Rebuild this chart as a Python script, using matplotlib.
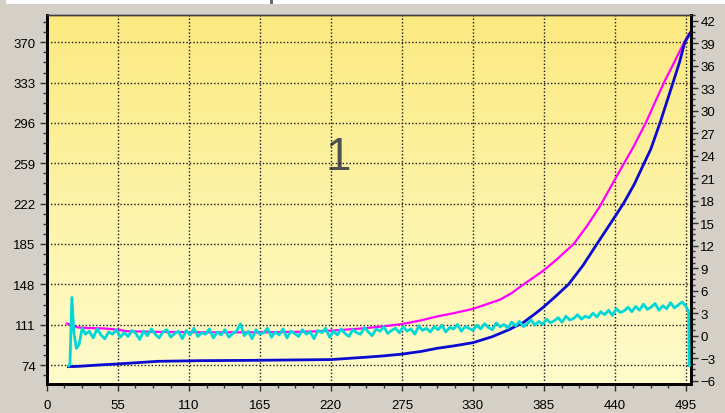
import numpy as np
import matplotlib
matplotlib.use("Agg")
import matplotlib.pyplot as plt
from matplotlib.patches import Rectangle
from matplotlib.ticker import AutoMinorLocator

# --- data ---
x_ticks = [0, 55, 110, 165, 220, 275, 330, 385, 440, 495]
left_ticks = [74, 111, 148, 185, 222, 259, 296, 333, 370]
right_ticks = [-6, -3, 0, 3, 6, 9, 12, 15, 18, 21, 24, 27, 30, 33, 36, 39, 42]

# magenta (left axis)
mag_x = [15.5, 19, 24, 30, 45, 55, 62, 80, 120, 165, 200, 220, 245, 260, 275,
         290, 302, 315, 330, 340, 351, 360, 368, 376, 384.5, 395, 408, 418,
         428, 437, 446, 454, 464, 471, 478, 486, 493.5, 498]
mag_y = [112, 111, 108.5, 108, 107.5, 106.4, 105, 104.5, 104, 104, 104.5, 105.5,
         107.6, 109.4, 111.6, 115, 118.5, 121.5, 125.5, 129.5, 134, 140, 147,
         153.5, 160.5, 171, 185, 201, 219, 238, 257, 273.5, 296.6, 315, 333.3,
         352, 370, 379]

# blue (left axis)
blue_x = [16.8, 24.5, 40, 55, 86, 120, 160, 220, 245, 260, 275, 290, 302, 315,
          330, 345, 358, 369, 377, 384.5, 394, 404, 415, 426, 436, 446.5, 455,
          462.5, 467.7, 475, 480, 485, 490, 494, 498]
blue_y = [72.5, 72.8, 74, 75, 77.4, 78, 78.3, 79, 81, 82.3, 84, 86.5, 89.3,
          91.5, 94.5, 100, 106.5, 113, 120, 127, 137, 148, 165, 185, 203, 222,
          240, 259, 272, 296.6, 315, 333.3, 352, 370, 378]

# cyan (right axis) - start transient, then samples every 3 units from 33 to 495
cyan_start_x = [17, 18, 19.5, 21, 23, 25, 27.5, 30]
cyan_start_y = [-4.0, -3.8, 5.1, 0.5, -1.7, -1.2, 1.0, 0.2]
cyan_x0, cyan_dx = 33, 3
cyan_y = [
    0.6, -0.3, 0.9, 0.1, -0.4, 0.5, 0.2, 0.8, -0.2, 0.4,
    -0.1, 0.7, 0.3, -0.5, 0.6, 0.0, 0.9, 0.2, -0.3, 0.5,
    0.8, -0.2, 0.3, 0.6, -0.4, 0.7, 0.1, 1.0, -0.1, 0.4,
    0.2, 0.9, -0.3, 0.5, 0.1, 0.8, -0.2, 0.3, 0.6, 1.6,
    0.0, 0.6, -0.4, 0.8, 0.2, 0.4, 1.0, -0.2, 0.5, 0.1,
    0.9, -0.3, 0.6, 0.3, -0.1, 0.8, 0.2, 0.5, -0.4, 0.7,
    0.4, 1.0, -0.2, 0.6, 0.1, 0.9, 0.3, -0.1, 0.8, 0.4,
    0.2, 1.1, 0.5, 0.0, 0.9, 0.6, 1.2, 0.3, 0.7, 1.0,
    0.4, 1.2, 0.6, 0.9, 0.2, 1.3, 0.7, 1.0, 0.5, 1.2,
    0.8, 1.4, 0.5, 1.1, 0.9, 1.5, 0.6, 1.2, 1.0, 0.7,
    1.4, 0.9, 1.6, 1.1, 0.8, 1.7, 1.2, 1.5, 1.0, 1.8,
    1.3, 1.9, 1.2, 1.6, 2.1, 1.4, 1.9, 1.5, 2.2, 1.7,
    2.0, 2.4, 1.8, 2.6, 2.1, 2.3, 2.8, 2.2, 2.6, 2.4,
    3.0, 2.5, 3.2, 2.8, 3.4, 2.7, 3.6, 3.1, 3.3, 3.8,
    3.2, 3.9, 3.4, 4.2, 3.5, 3.8, 4.3, 3.4, 4.0, 3.6,
    4.4, 3.7, 4.1, 4.5, 3.9,
]
cyan_end_x = [497, 497.5]
cyan_end_y = [3.2, -4.0]

# --- figure ---
fig = plt.figure(figsize=(7.25, 4.14), dpi=100, facecolor="#d4d0c8")
fig.add_artist(Rectangle((6 / 725, 1 - 5 / 414), 1, 5 / 414, transform=fig.transFigure,
                         facecolor="white", edgecolor="none", zorder=0))
# bottom edge of a title that sits above the visible area
fig.add_artist(Rectangle((270 / 725, 1 - 5 / 414), 3 / 725, 5 / 414, transform=fig.transFigure,
                         facecolor="#6a6a6a", edgecolor="none", zorder=1))

ax = fig.add_axes([46.7 / 725, 1 - 385 / 414, 644 / 725, 369.3 / 414])
ax.set_facecolor("none")

# vertical gradient background
t = np.linspace(0, 1, 256)[:, None, None]
top = np.array([251, 233, 128]) / 255
bot = np.array([255, 252, 204]) / 255
img = top + (bot - top) * t
ax.imshow(img, extent=[0, 1, 0, 1], transform=ax.transAxes, aspect="auto",
          zorder=0, origin="upper")

ax.set_xlim(0, 498.6)
ax.set_ylim(56.6, 395.3)
ax.set_xticks(x_ticks)
ax.set_yticks(left_ticks)
ax.xaxis.set_minor_locator(AutoMinorLocator(4))
ax.yaxis.set_minor_locator(AutoMinorLocator(4))
ax.grid(True, which="major", color="#1a1a1a", linestyle=(0, (1, 1.5)), linewidth=1.0)
ax.set_axisbelow(False)

ax.plot(mag_x, mag_y, color="#ff00ff", linewidth=1.6, zorder=3)
ax.plot(blue_x, blue_y, color="#0a0ad0", linewidth=2.0, zorder=4)

ax2 = ax.twinx()
ax2.set_ylim(-6.44, 42.8)
ax2.set_yticks(right_ticks)
ax2.yaxis.set_minor_locator(AutoMinorLocator(4))
cyan_x = cyan_start_x + [cyan_x0 + cyan_dx * i for i in range(len(cyan_y))] + cyan_end_x
cyan_all = cyan_start_y + cyan_y + cyan_end_y
ax2.plot(cyan_x, cyan_all, color="#00d8d8", linewidth=2.0, zorder=3)

ax.text(0.452, 0.615, "1", transform=ax.transAxes, fontsize=33, color="#505050",
        ha="center", va="center", family="Liberation Sans", zorder=2)

for a in (ax, ax2):
    for side in ("left", "right", "bottom"):
        a.spines[side].set_linewidth(2.0)
        a.spines[side].set_color("black")
    a.spines["top"].set_linewidth(1.0)
    a.spines["top"].set_color("#404040")
    a.tick_params(which="major", length=5, width=1, color="#303030",
                  labelsize=9.5, labelcolor="black")
    a.tick_params(which="minor", length=3, width=1, color="#303030")
for lbl in ax.get_xticklabels() + ax.get_yticklabels() + ax2.get_yticklabels():
    lbl.set_family("Liberation Sans")
ax.tick_params(axis="x", pad=6)
ax.tick_params(axis="y", pad=3)
ax2.tick_params(axis="y", pad=2)

fig.savefig("out.png", dpi=100, facecolor=fig.get_facecolor())
